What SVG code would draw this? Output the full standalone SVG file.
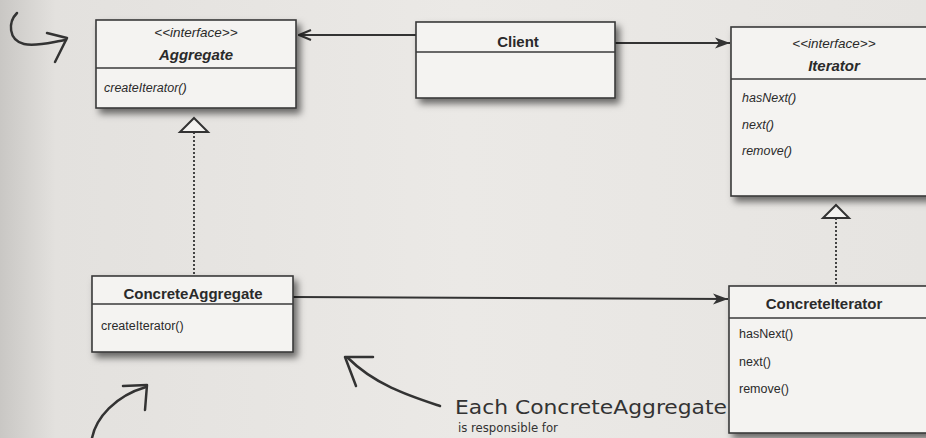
<svg xmlns="http://www.w3.org/2000/svg" width="926" height="438" viewBox="0 0 926 438">
<defs>
<linearGradient id="bg" x1="0" y1="0" x2="1" y2="0">
<stop offset="0" stop-color="#c9c7c4"/>
<stop offset="0.06" stop-color="#e3e1de"/>
<stop offset="0.5" stop-color="#ebe9e6"/>
<stop offset="1" stop-color="#e6e4e1"/>
</linearGradient>
<filter id="sh" x="-10%" y="-10%" width="130%" height="140%">
<feDropShadow dx="4" dy="5" stdDeviation="3.5" flood-color="#000" flood-opacity="0.55"/>
</filter>
<marker id="open" markerWidth="14" markerHeight="12" refX="13" refY="6" orient="auto" markerUnits="userSpaceOnUse">
<path d="M1,1 L13,6 L1,11" fill="none" stroke="#333" stroke-width="2"/>
</marker>
<marker id="fill" markerWidth="16" markerHeight="12" refX="15" refY="6" orient="auto" markerUnits="userSpaceOnUse">
<path d="M0,0.5 L15,6 L0,11.5 L4,6 Z" fill="#333"/>
</marker>
</defs>
<style>
.box{fill:#f4f3f1;stroke:#3a3a3a;stroke-width:1.6}
.div{stroke:#3a3a3a;stroke-width:1.6}
.t{font-family:"Liberation Sans",Arial,sans-serif;fill:#2a2a2a}
.st{font-size:13.5px;font-style:italic;text-anchor:middle}
.nm{font-size:15px;font-weight:bold;text-anchor:middle}
.nmi{font-size:15px;font-weight:bold;font-style:italic;text-anchor:middle}
.m{font-size:12.5px}
.mi{font-size:12.5px;font-style:italic}
.conn{stroke:#333;stroke-width:2;fill:none}
.dot{stroke:#444;stroke-width:2;stroke-dasharray:2 2;fill:none}
.tri{fill:#f4f3f1;stroke:#333;stroke-width:2}
.hand{stroke:#333;stroke-width:2.5;fill:none;stroke-linecap:round;stroke-linejoin:round}
.hw{font-family:"DejaVu Sans Condensed","DejaVu Sans",sans-serif;fill:#333}
</style>
<rect x="0" y="0" width="926" height="438" fill="url(#bg)"/>

<g id="connectors">
<line class="conn" x1="416" y1="35" x2="299" y2="35" marker-end="url(#open)"/>
<line class="conn" x1="615" y1="43" x2="730" y2="43" marker-end="url(#fill)"/>
<line class="conn" x1="293" y1="297" x2="728" y2="299" marker-end="url(#fill)"/>
<line class="dot" x1="194" y1="132" x2="194" y2="275"/>
<path class="tri" d="M194,118 L208,132 L180,132 Z"/>
<line class="dot" x1="836" y1="218" x2="836" y2="286"/>
<path class="tri" d="M836,205 L849,218 L823,218 Z"/>
</g>

<g id="aggregate">
<rect class="box" x="96" y="20" width="200" height="88" filter="url(#sh)"/>
<line class="div" x1="96" y1="68" x2="296" y2="68"/>
<text class="t st" x="196" y="37">&lt;&lt;interface&gt;&gt;</text>
<text class="t nmi" x="196" y="60">Aggregate</text>
<text class="t mi" x="104" y="92">createIterator()</text>
</g>

<g id="client">
<rect class="box" x="416" y="22" width="199" height="76" filter="url(#sh)"/>
<line class="div" x1="416" y1="52" x2="615" y2="52"/>
<text class="t nm" x="518" y="47">Client</text>
</g>

<g id="iterator">
<rect class="box" x="731" y="27" width="205" height="169" filter="url(#sh)"/>
<line class="div" x1="731" y1="79" x2="936" y2="79"/>
<text class="t st" x="834" y="48">&lt;&lt;interface&gt;&gt;</text>
<text class="t nmi" x="834" y="71">Iterator</text>
<text class="t mi" x="742" y="102">hasNext()</text>
<text class="t mi" x="742" y="129">next()</text>
<text class="t mi" x="742" y="155">remove()</text>
</g>

<g id="concreteaggregate">
<rect class="box" x="92" y="276" width="201" height="76" filter="url(#sh)"/>
<line class="div" x1="92" y1="304" x2="293" y2="304"/>
<text class="t nm" x="193" y="299">ConcreteAggregate</text>
<text class="t m" x="101" y="330">createIterator()</text>
</g>

<g id="concreteiterator">
<rect class="box" x="729" y="286" width="207" height="147" filter="url(#sh)"/>
<line class="div" x1="729" y1="318" x2="936" y2="318"/>
<text class="t nm" x="824" y="309">ConcreteIterator</text>
<text class="t m" x="739" y="338">hasNext()</text>
<text class="t m" x="739" y="366">next()</text>
<text class="t m" x="739" y="393">remove()</text>
</g>

<g id="annotations">
<path class="hand" d="M17,13 C8,22 8,40 24,44 C36,47 52,42 66,40"/>
<path class="hand" d="M47,33 L67,38 L55,62"/>
<path class="hand" d="M440,406 C410,396 375,385 348,358"/>
<path class="hand" d="M373,357 L345,357 L356,386"/>
<path class="hand" d="M92,438 C96,418 115,396 146,387"/>
<path class="hand" d="M123,386 L147,385 L145,410"/>
<text class="hw" x="455" y="414" font-size="20" textLength="272" lengthAdjust="spacingAndGlyphs">Each ConcreteAggregate</text>
<text class="hw" x="458" y="432" font-size="13">is responsible for</text>
</g>
</svg>
